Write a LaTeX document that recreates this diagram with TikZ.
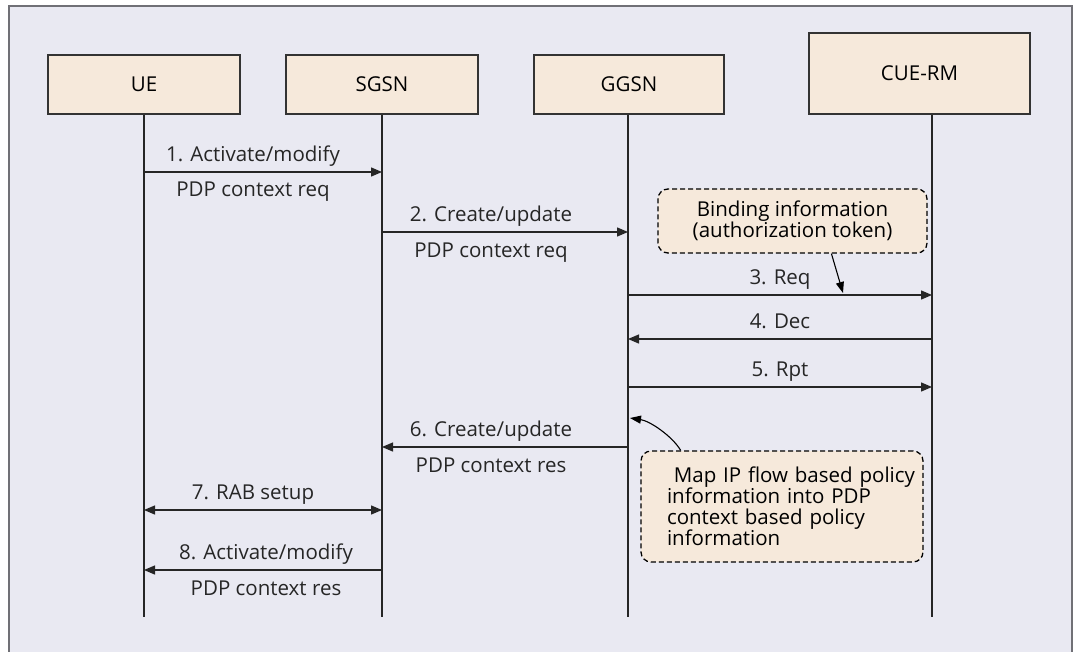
\documentclass[tikz,border=0pt]{standalone}
\usepackage{fontspec}
\setmainfont{Open Sans}
\usetikzlibrary{arrows.meta}
\definecolor{boxfill}{RGB}{246,233,219}
\definecolor{framefill}{RGB}{233,233,242}
\definecolor{framedraw}{RGB}{112,112,118}
\tikzset{
actorbox/.style={rectangle, draw=black!80, fill=boxfill, line width=1.2pt, minimum width=192pt, minimum height=59pt, inner sep=0pt},
notebox/.style={rectangle, rounded corners=10pt, draw=black, dash pattern=on 5pt off 3pt, fill=boxfill, line width=1.3pt, inner sep=0pt},
life/.style={line width=1.2pt, black!85},
msg/.style={line width=1.3pt, black!85, -{Triangle[length=11pt,width=9pt]}},
twoway/.style={line width=1.3pt, black!85, {Triangle[length=11pt,width=9pt]}-{Triangle[length=11pt,width=9pt]}},
ptr/.style={line width=1.1pt, black, -{Triangle[length=11pt,width=8pt]}},
upper/.style={anchor=base, yshift=10.5pt},
lower/.style={anchor=base, yshift=-25pt}
}

\begin{document}
\begin{tikzpicture}[x=1pt, y=-1pt, font=\fontsize{20.5}{21}\selectfont]
\useasboundingbox (0,0) rectangle (1075,652);
\draw[framedraw, fill=framefill, line width=1.5pt] (9,6) rectangle (1072,680);

\node[actorbox] (ue) at (144,84.5) {UE};
\node[actorbox] (sgsn) at (382,84.5) {SGSN};
\node[actorbox, minimum width=190pt] (ggsn) at (629,84.5) {GGSN};
\node[actorbox, minimum width=221pt, minimum height=81pt] (cue) at (919.5,73.5) {CUE-RM};

\coordinate (ue-end) at (144,617);
\coordinate (sgsn-end) at (382,617);
\coordinate (ggsn-end) at (628,617);
\coordinate (cue-end) at (932,617);

\draw[life] (ue) -- (ue-end);
\draw[life] (sgsn) -- (sgsn-end);
\draw[life] (ggsn.south -| ggsn-end) -- (ggsn-end);
\draw[life] (cue.south -| cue-end) -- (cue-end);

\draw[msg] (ue-end |- 0,172) -- node[upper, xshift=-10pt] {1. Activate/modify} node[lower, xshift=-10pt] {PDP context req} (sgsn-end |- 0,172);
\draw[msg] (sgsn-end |- 0,232) -- node[upper, xshift=-14pt] {2. Create/update} node[lower, xshift=-14pt] {PDP context req} (ggsn-end |- 0,232);
\draw[msg] (ggsn-end |- 0,295) -- node[upper] {3. Req} (cue-end |- 0,295);
\draw[msg] (cue-end |- 0,339) -- node[upper] {4. Dec} (ggsn-end |- 0,339);
\draw[msg] (ggsn-end |- 0,387) -- node[upper] {5. Rpt} (cue-end |- 0,387);
\draw[msg] (ggsn-end |- 0,447) -- node[upper, xshift=-14pt] {6. Create/update} node[lower, xshift=-14pt] {PDP context res} (sgsn-end |- 0,447);
\draw[twoway] (ue-end |- 0,510) -- node[upper, xshift=-10pt] {7. RAB setup} (sgsn-end |- 0,510);
\draw[msg] (sgsn-end |- 0,570) -- node[upper, xshift=3pt] {8. Activate/modify} node[lower, xshift=3pt] {PDP context res} (ue-end |- 0,570);

\node[notebox, minimum width=269pt, minimum height=64pt, align=center] (bind) at (792.5,221) {Binding information\\(authorization token)};
\node[notebox, text width=230pt, inner xsep=26pt, minimum height=111pt, align=left] (map) at (782,506.5)
  {\mbox{\ Map IP flow based policy}\\\mbox{information into PDP}\\\mbox{context based policy}\\\mbox{information}};

\coordinate (tok) at (843,293);
\coordinate (pol) at (630,418);
\draw[ptr] (bind.-40.5) -- (tok);
\draw[ptr] (map.151) .. controls (672,436) and (650,421) .. (pol);
\end{tikzpicture}
\end{document}
